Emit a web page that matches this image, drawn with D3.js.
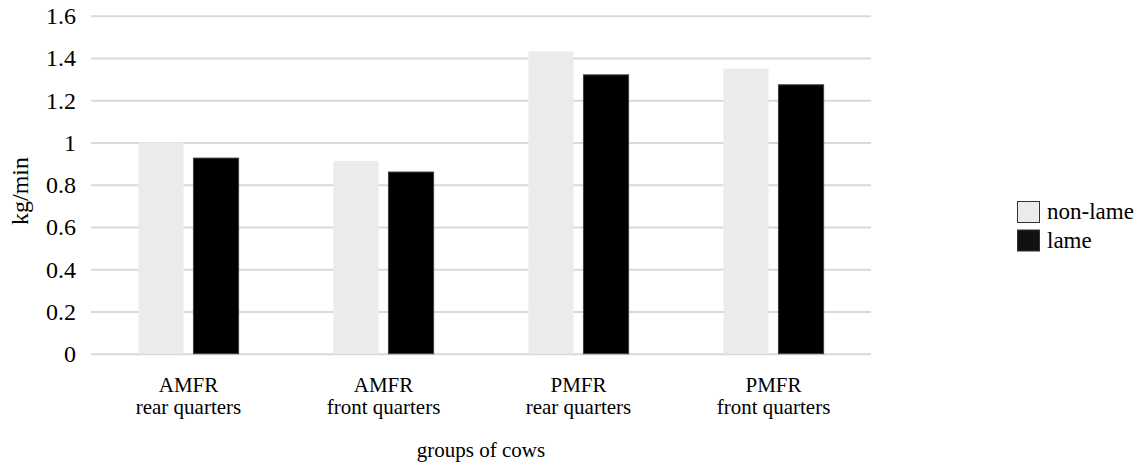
<!DOCTYPE html>
<html>
<head>
<meta charset="utf-8">
<script src="https://cdn.jsdelivr.net/npm/d3@7"></script>
<style>
  html, body { margin: 0; padding: 0; background: #fff; }
</style>
</head>
<body>
<svg id="chart" width="1143" height="466"></svg>
<script>
const categories = [["AMFR", "rear quarters"], ["AMFR", "front quarters"], ["PMFR", "rear quarters"], ["PMFR", "front quarters"]];
const seriesNames = ["non-lame", "lame"];
const nonLame = [1.0, 0.913, 1.431, 1.349];
const lame = [0.926, 0.86, 1.32, 1.273];
const yTicks = [0, 0.2, 0.4, 0.6, 0.8, 1, 1.2, 1.4, 1.6];
const colors = ["#ebebeb", "#000000"];

const FONT = '"Liberation Serif"';
const svg = d3.select("#chart");
const mLeft = 91, mRight = 871, mTop = 15.7, mBottom = 353.7;

const x0 = d3.scaleBand().domain(d3.range(categories.length)).range([mLeft, mRight]).padding(0);
const bw = x0.bandwidth();
const x1 = d3.scaleBand().domain(seriesNames).range([bw * 0.243, bw * 0.757]).paddingInner(0.18);
const y = d3.scaleLinear().domain([0, 1.6]).range([mBottom, mTop]);

// gridlines + tick labels
const yAxis = d3.axisLeft(y).tickValues(yTicks).tickSize(-(mRight - mLeft)).tickPadding(15)
  .tickFormat(d => String(+d.toFixed(1)));
const gy = svg.append("g").attr("transform", `translate(${mLeft},0)`).call(yAxis);
gy.select(".domain").remove();
gy.selectAll(".tick line").attr("stroke", "#d9d9d9").attr("stroke-width", 2);
gy.selectAll(".tick text").style("font-family", FONT).style("font-size", "24px").attr("fill", "#000")
  .attr("dy", "0.33em");

const values = [nonLame, lame];
const groups = svg.append("g");
seriesNames.forEach((s, si) => {
  groups.selectAll(null).data(values[si]).enter().append("rect")
    .attr("x", (d, i) => x0(i) + x1(s))
    .attr("width", x1.bandwidth())
    .attr("y", d => y(d))
    .attr("height", d => y(0) - y(d))
    .attr("fill", colors[si])
    .attr("stroke", si === 1 ? "#404040" : "none")
    .attr("stroke-width", si === 1 ? 1 : 0);
});

// category labels
const cat = svg.append("g");
categories.forEach((c, i) => {
  const cx = x0(i) + bw / 2;
  const t = cat.append("text").attr("text-anchor", "middle")
    .style("font-family", FONT).style("font-size", "21px");
  t.append("tspan").attr("x", cx).attr("y", 392).text(c[0]);
  t.append("tspan").attr("x", cx).attr("y", 414).text(c[1]);
});

// axis titles
svg.append("text").attr("x", (mLeft + mRight) / 2).attr("y", 457).attr("text-anchor", "middle")
  .style("font-family", FONT).style("font-size", "21px").text("groups of cows");
svg.append("text").attr("transform", "translate(28,191) rotate(-90)").attr("text-anchor", "middle")
  .style("font-family", FONT).style("font-size", "24px").text("kg/min");

// legend
const lg = svg.append("g");
seriesNames.forEach((s, i) => {
  lg.append("rect").attr("x", 1017.5).attr("y", 201.5 + i * 28.5).attr("width", 22).attr("height", 21)
    .attr("fill", i === 1 ? "#111" : colors[i]).attr("stroke", "#333").attr("stroke-width", 1);
  lg.append("text").attr("x", 1047).attr("y", 219 + i * 28.5)
    .style("font-family", FONT).style("font-size", "23px").text(s);
});
</script>
</body>
</html>
